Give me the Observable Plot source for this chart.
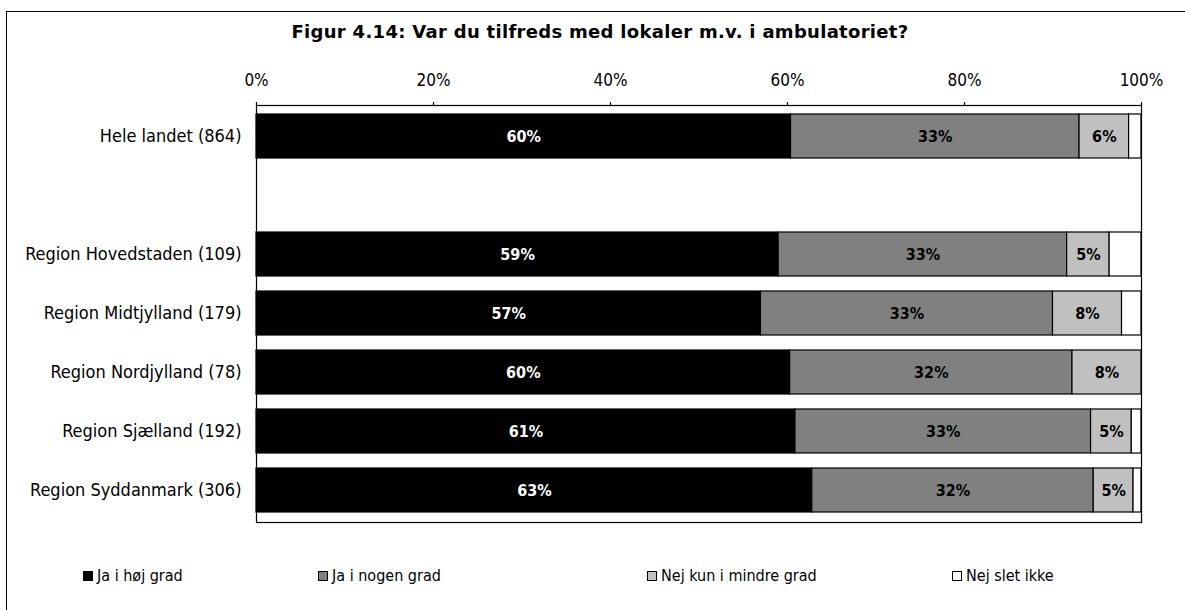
<!DOCTYPE html>
<html>
<head>
<meta charset="utf-8">
<script src="https://cdn.jsdelivr.net/npm/d3@7"></script>
<script src="https://cdn.jsdelivr.net/npm/@observablehq/plot@0.6"></script>
<style>
  html, body { margin: 0; padding: 0; background: #fff; overflow: hidden; width: 1185px; height: 610px; }
  #wrap { position: relative; width: 1185px; height: 610px; overflow: hidden; font-family: "DejaVu Sans Condensed", "DejaVu Sans", sans-serif; }
  #border { position: absolute; left: 6px; top: 11px; width: 1300px; height: 700px; border-left: 1.5px solid #000; border-top: 1.5px solid #000; box-sizing: border-box; }
  #title { position: absolute; left: 0; top: 21px; width: 1200px; text-align: center; font-family: "DejaVu Sans", sans-serif; font-weight: bold; font-size: 18px; letter-spacing: 0.3px; color: #000; }
  #chart { position: absolute; left: 0; top: 0; }
  #legend { position: absolute; left: 0; top: 566px; width: 1185px; height: 22px; font-size: 16px; color: #000; }
  .item { position: absolute; top: 0; display: flex; align-items: center; white-space: nowrap; }
  .sw { width: 8px; height: 8px; border: 1.5px solid #000; margin-right: 4px; box-sizing: content-box; }
</style>
</head>
<body>
<div id="wrap">
  <div id="border"></div>
  <div id="chart"></div>
  <div id="title">Figur 4.14: Var du tilfreds med lokaler m.v. i ambulatoriet?</div>
  <div id="legend"></div>
</div>
<script>
// Categories (blank row separates the national total from the regions)
const categories = [
  "Hele landet (864)",
  " ",
  "Region Hovedstaden (109)",
  "Region Midtjylland (179)",
  "Region Nordjylland (78)",
  "Region Sjælland (192)",
  "Region Syddanmark (306)"
];
const rowCategories = [
  "Hele landet (864)",
  "Region Hovedstaden (109)",
  "Region Midtjylland (179)",
  "Region Nordjylland (78)",
  "Region Sjælland (192)",
  "Region Syddanmark (306)"
];
const seriesNames = ["Ja i høj grad", "Ja i nogen grad", "Nej kun i mindre grad", "Nej slet ikke"];
const seriesColors = ["#000000", "#808080", "#c0c0c0", "#ffffff"];

// Values in percent
const jaHoejGrad      = [60.4, 59.0, 57.0, 60.3, 60.9, 62.8];
const jaNogenGrad     = [32.6, 32.6, 33.0, 31.9, 33.4, 31.8];
const nejMindreGrad   = [5.6, 4.8, 7.8, 7.8, 4.6, 4.5];
const nejSletIkke     = [1.4, 3.6, 2.2, 0.0, 1.1, 0.9];

// Printed labels
const labelJaHoej    = ["60%", "59%", "57%", "60%", "61%", "63%"];
const labelJaNogen   = ["33%", "33%", "33%", "32%", "33%", "32%"];
const labelNejMindre = ["6%", "5%", "8%", "8%", "5%", "5%"];

const xTicks = [0, 20, 40, 60, 80, 100];

const seriesValues = [jaHoejGrad, jaNogenGrad, nejMindreGrad, nejSletIkke];
const seriesLabels = [labelJaHoej, labelJaNogen, labelNejMindre, null];

const data = [];
rowCategories.forEach((cat, i) => {
  seriesNames.forEach((s, j) => {
    data.push({
      cat, series: s, value: seriesValues[j][i],
      label: seriesLabels[j] ? seriesLabels[j][i] : "",
      textFill: j === 0 ? "#ffffff" : "#000000"
    });
  });
});

const font = '"DejaVu Sans Condensed", "DejaVu Sans", sans-serif';

const chart = Plot.plot({
  width: 1185,
  height: 610,
  marginTop: 105,
  marginBottom: 88,
  marginLeft: 256,
  marginRight: 44,
  style: { fontFamily: font, fontSize: "17px", color: "#000", background: "transparent", overflow: "visible" },
  x: { domain: [0, 100] },
  y: { domain: categories, paddingInner: 0.25, paddingOuter: 0.125 },
  color: { domain: seriesNames, range: seriesColors },
  marks: [
    Plot.barX(data, Plot.stackX({
      x: "value", y: "cat", fill: "series", stroke: "#000", strokeWidth: 1.2, order: seriesNames
    })),
    Plot.text(data, Plot.stackX({
      x: "value", y: "cat", text: "label", fill: "textFill", order: seriesNames,
      fontWeight: "bold", fontSize: 16
    })),
    Plot.frame({ stroke: "#000", strokeWidth: 1.2 }),
    Plot.axisX({
      anchor: "top", ticks: xTicks, tickFormat: d => d + "%", tickSize: 4,
      tickPadding: 16, fontSize: 17, label: null, stroke: "#000", strokeWidth: 1.2
    }),
    Plot.axisY({
      anchor: "left", tickSize: 0, tickPadding: 15, fontSize: 18, label: null
    })
  ]
});
document.getElementById("chart").appendChild(chart);

// Legend
const legendX = [83, 318, 647, 952];
const legend = document.getElementById("legend");
seriesNames.forEach((s, j) => {
  const it = document.createElement("div");
  it.className = "item";
  it.style.left = legendX[j] + "px";
  const sw = document.createElement("div");
  sw.className = "sw";
  sw.style.background = seriesColors[j];
  const tx = document.createElement("span");
  tx.textContent = s;
  it.appendChild(sw);
  it.appendChild(tx);
  legend.appendChild(it);
});
</script>
</body>
</html>
